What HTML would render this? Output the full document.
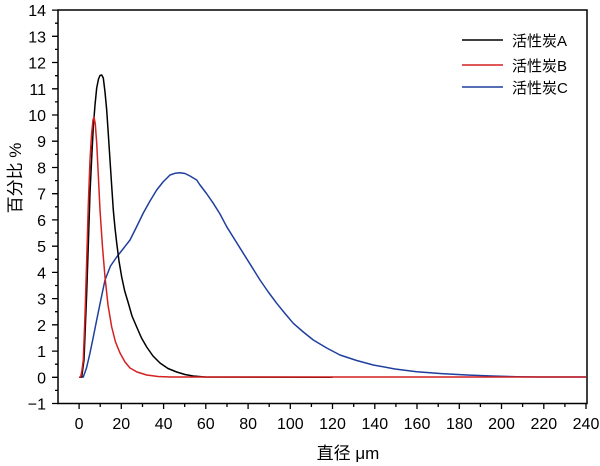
<!DOCTYPE html><html><head><meta charset="utf-8"><style>body{margin:0;background:#fff}svg{display:block}text{font-family:"Liberation Sans","Noto Sans CJK SC",sans-serif;fill:#000}</style></head><body>
<svg width="600" height="466" xmlns="http://www.w3.org/2000/svg">
<rect x="58" y="10" width="529" height="393.5" fill="none" stroke="#000" stroke-width="1.5"/>
<path stroke="#000" stroke-width="1.3" fill="none" d="M52 403.5H58M52 377.3H58M52 351.1H58M52 324.8H58M52 298.6H58M52 272.4H58M52 246.2H58M52 219.9H58M52 193.7H58M52 167.5H58M52 141.2H58M52 115H58M52 88.8H58M52 62.5H58M52 36.3H58M52 10.1H58
M55 390.4H58M55 364.2H58M55 338H58M55 311.7H58M55 285.5H58M55 259.3H58M55 233H58M55 206.8H58M55 180.6H58M55 154.4H58M55 128.1H58M55 101.9H58M55 75.7H58M55 49.4H58M55 23.2H58
M79.1 403.5V409M121.3 403.5V409M163.6 403.5V409M205.8 403.5V409M248.1 403.5V409M290.3 403.5V409M332.5 403.5V409M374.8 403.5V409M417 403.5V409M459.3 403.5V409M501.5 403.5V409M543.8 403.5V409M586 403.5V409
M100.2 403.5V407M142.5 403.5V407M184.7 403.5V407M227 403.5V407M269.2 403.5V407M311.4 403.5V407M353.7 403.5V407M395.9 403.5V407M438.2 403.5V407M480.4 403.5V407M522.6 403.5V407M564.9 403.5V407"/>
<g font-size="16" text-anchor="end">
<text x="46" y="409.5">−1</text><text x="46" y="383.3">0</text><text x="46" y="357.1">1</text><text x="46" y="330.8">2</text><text x="46" y="304.6">3</text><text x="46" y="278.4">4</text><text x="46" y="252.2">5</text><text x="46" y="225.9">6</text><text x="46" y="199.7">7</text><text x="46" y="173.5">8</text><text x="46" y="147.2">9</text><text x="46" y="121">10</text><text x="46" y="94.8">11</text><text x="46" y="68.5">12</text><text x="46" y="42.3">13</text><text x="46" y="16.1">14</text>
</g>
<g font-size="16" text-anchor="middle">
<text x="79.1" y="429">0</text><text x="121.3" y="429">20</text><text x="163.6" y="429">40</text><text x="205.8" y="429">60</text><text x="248.1" y="429">80</text><text x="290.3" y="429">100</text><text x="332.5" y="429">120</text><text x="374.8" y="429">140</text><text x="417" y="429">160</text><text x="459.3" y="429">180</text><text x="501.5" y="429">200</text><text x="543.8" y="429">220</text><text x="586" y="429">240</text>
</g>
<text transform="translate(21,178) rotate(-90)" font-size="17" text-anchor="middle">百分比 %</text>
<text x="348" y="459" font-size="17" text-anchor="middle">直径 μm</text>
<polyline fill="none" stroke="#1f3f9e" stroke-width="1.5" stroke-linejoin="round" points="79.1,377.3 83.3,377 86.5,368 90,353 93.3,337 96.7,320 100.8,300 105,280 110.5,266 116.7,257 123,249 130,240 136.5,227 143.3,213 150,201 156.7,190 163,182 170,175 175,173.3 180,172.8 185,173.5 190,176 196.7,180 200,185 206.5,193.5 213.3,203.3 220,214 226.7,226.7 235,240 243.3,253.3 251.7,266.7 260,280 268.3,292 276.7,303.3 285,313.5 293.3,323.3 303.3,332 313.3,340 326.7,348 340,355 356.7,360.5 373.3,365 395,369 416.7,371.7 441.7,373.6 466.7,375 491.7,376 516.7,376.7 540,377 586,377"/>
<polyline fill="none" stroke="#000" stroke-width="1.5" stroke-linejoin="round" points="79.1,377.3 81.7,377 84,360 86.7,293 88.3,245 90,193 91.7,158 93.3,127 95,105 96.7,88 98.5,79 100,75.5 101.7,75 103.3,78 105,92 106.7,110 108.3,134 110,160 111.7,186 113.3,210 115,228 116.7,243 119,261 121.7,277 124.7,291 128.3,303 132,316 136.7,327 141.5,338 146.7,347 153,356 160,363 168,368.5 176.7,372 185,374.5 193,376 205,377 332.5,377.3"/>
<polyline fill="none" stroke="#d42020" stroke-width="1.5" stroke-linejoin="round" points="79.1,377.3 80.7,377 82,370 83.3,360 85,315 86.7,260 88.3,205 90,160 91.5,135 93,120 94,117 95.3,124 96.7,143 98.3,175 100,210 102.5,247 105,277 108,305 111.7,327 115.5,342 120,353 125,362 130,368 137,372 146.7,375 158,376.5 170,377 586,377"/>
<line x1="462" x2="503" y1="40" y2="40" stroke="#000" stroke-width="1.5"/><text x="512" y="46" font-size="15">活性炭A</text>
<line x1="462" x2="503" y1="65" y2="65" stroke="#d42020" stroke-width="1.5"/><text x="512" y="71" font-size="15">活性炭B</text>
<line x1="462" x2="503" y1="87" y2="87" stroke="#1f3f9e" stroke-width="1.5"/><text x="512" y="93" font-size="15">活性炭C</text>
</svg>
</body></html>
